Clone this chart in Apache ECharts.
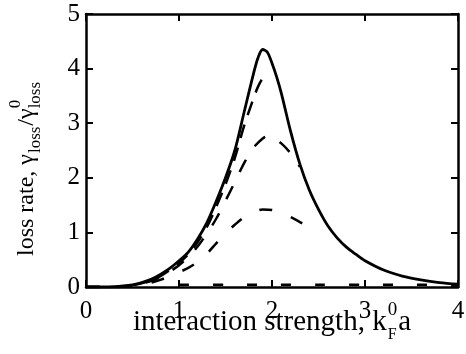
<!DOCTYPE html>
<html>
<head>
<meta charset="utf-8">
<script src="https://cdn.jsdelivr.net/npm/echarts@6/dist/echarts.min.js"></script>
<style>html,body{margin:0;padding:0;background:#fff;}#c{width:466px;height:354px;}</style>
</head>
<body>
<div id="c"></div>
<script>
// ---- data ----
var xTicks = [0, 1, 2, 3, 4];
var yTicks = [0, 1, 2, 3, 4, 5];

var solidX = [0, 0.2, 0.4, 0.5, 0.6, 0.7, 0.8, 0.9, 1.0, 1.1, 1.2, 1.3, 1.4, 1.5, 1.6, 1.7, 1.8, 1.85, 1.9, 1.95, 2.0, 2.05, 2.1, 2.2, 2.3, 2.4, 2.5, 2.6, 2.7, 2.8, 2.9, 3.0, 3.2, 3.4, 3.6, 3.8, 4.0];
var solidY = [0, 0.0, 0.02, 0.04, 0.08, 0.14, 0.23, 0.34, 0.48, 0.64, 0.88, 1.18, 1.57, 2.0, 2.5, 3.2, 3.9, 4.2, 4.35, 4.3, 4.1, 3.85, 3.55, 2.85, 2.25, 1.78, 1.42, 1.12, 0.9, 0.73, 0.6, 0.48, 0.31, 0.2, 0.13, 0.08, 0.05];

var dash1X = [0, 0.3, 0.5, 0.7, 0.8, 0.9, 1.0, 1.1, 1.2, 1.3, 1.4, 1.5, 1.6, 1.7, 1.8, 1.85, 1.9, 1.95];
var dash1Y = [0, 0.0, 0.03, 0.12, 0.2, 0.31, 0.44, 0.6, 0.82, 1.1, 1.47, 1.88, 2.36, 2.95, 3.45, 3.67, 3.82, 3.86];

var dash2X = [0, 0.3, 0.5, 0.7, 0.8, 0.9, 1.0, 1.1, 1.2, 1.3, 1.4, 1.5, 1.6, 1.7, 1.8, 1.9, 1.95, 2.0, 2.1, 2.2, 2.3];
var dash2Y = [0, 0.0, 0.03, 0.11, 0.18, 0.28, 0.4, 0.55, 0.74, 0.98, 1.25, 1.58, 1.92, 2.27, 2.55, 2.72, 2.76, 2.75, 2.63, 2.45, 2.2];

var dash3X = [0, 0.3, 0.5, 0.7, 0.8, 0.9, 1.0, 1.1, 1.2, 1.3, 1.4, 1.5, 1.6, 1.7, 1.8, 1.9, 2.0, 2.1, 2.2, 2.3, 2.4, 2.5];
var dash3Y = [0, 0.0, 0.02, 0.08, 0.13, 0.2, 0.27, 0.35, 0.46, 0.61, 0.8, 0.98, 1.14, 1.28, 1.37, 1.42, 1.41, 1.35, 1.28, 1.19, 1.1, 1.02];

var dash4X = [1.0, 1.5, 2.0, 2.5, 3.0, 3.5, 4.0];
var dash4Y = [0.04, 0.04, 0.04, 0.04, 0.04, 0.04, 0.04];

function pairs(xs, ys) { return xs.map(function (x, i) { return [x, ys[i]]; }); }

var SERIF = '"Liberation Serif", "DejaVu Serif", serif';
function tw(text, size) {
  var c = document.createElement('canvas').getContext('2d');
  c.font = size + 'px ' + SERIF;
  return c.measureText(text).width;
}

// ---- axis title pieces ----
var yMain = 24, ySub = 17;
var yp1 = 'loss rate, \u03b3', yp2 = 'loss', yp3 = '/\u03b3', yp4 = '0', yp5 = 'loss';
var w1 = tw(yp1, yMain), w2 = tw(yp2, ySub), w3 = tw(yp3, yMain), w5 = tw(yp5, ySub);
function T(text, x, y, size) {
  return { type: 'text', x: x, y: y, style: { text: text, font: size + 'px ' + SERIF, fill: '#000', verticalAlign: 'middle', align: 'left' } };
}
var yLabel = {
  type: 'group', x: 27, y: 256, rotation: Math.PI / 2,
  children: [
    T(yp1, 0, 0, yMain),
    T(yp2, w1 + 1, 9, ySub),
    T(yp3, w1 + w2 + 2, 0, yMain),
    T(yp4, w1 + w2 + w3 + 2, -11, ySub),
    T(yp5, w1 + w2 + w3 + 2, 9, ySub)
  ]
};

var xMain = 29;
var xp1 = 'interaction strength, k', xp2 = '0', xp3 = 'F', xp4 = 'a';
var xw1 = tw(xp1, xMain), xw2 = Math.max(tw(xp2, 19), tw(xp3, 16));
var xLabel = {
  type: 'group', x: 133, y: 322,
  children: [
    T(xp1, 0, 0, xMain),
    T(xp2, xw1 + 1, -12, 19),
    T(xp3, xw1 + 1, 13, 16),
    T(xp4, xw1 + xw2 + 2, 0, xMain)
  ]
};

var axisLineStyle = { color: '#000', width: 2.5 };
var tickStyle = { color: '#000', width: 2 };
var lbl = { color: '#000', fontFamily: SERIF, fontSize: 25 };

function dashedSeries(xs, ys, dash) {
  return {
    type: 'line', data: pairs(xs, ys), showSymbol: false, symbol: 'none', smooth: 0.3,
    lineStyle: { color: '#000', width: 2.5, type: dash, cap: 'butt' }, z: 3, animation: false
  };
}

var chart = echarts.init(document.getElementById('c'), null, { renderer: 'canvas' });
chart.setOption({
  animation: false,
  backgroundColor: '#fff',
  grid: { left: 86, right: 8, top: 14, bottom: 67, containLabel: false, outerBoundsMode: 'none' },
  xAxis: [
    { type: 'value', min: 0, max: 4, interval: 1, position: 'bottom',
      axisLine: { show: true, onZero: false, lineStyle: axisLineStyle },
      axisTick: { show: true, inside: true, length: 7, lineStyle: tickStyle },
      axisLabel: Object.assign({ margin: 12, formatter: function (v) { return xTicks.indexOf(v) >= 0 ? String(v) : ''; } }, lbl),
      splitLine: { show: false } },
    { type: 'value', min: 0, max: 4, interval: 1, position: 'top',
      axisLine: { show: true, onZero: false, lineStyle: axisLineStyle },
      axisTick: { show: true, inside: true, length: 7, lineStyle: tickStyle },
      axisLabel: { show: false }, splitLine: { show: false } }
  ],
  yAxis: [
    { type: 'value', min: 0, max: 5, interval: 1, position: 'left',
      axisLine: { show: true, onZero: false, lineStyle: axisLineStyle },
      axisTick: { show: true, inside: true, length: 7, lineStyle: tickStyle },
      axisLabel: Object.assign({ margin: 6, formatter: function (v) { return yTicks.indexOf(v) >= 0 ? String(v) : ''; } }, lbl),
      splitLine: { show: false } },
    { type: 'value', min: 0, max: 5, interval: 1, position: 'right',
      axisLine: { show: true, onZero: false, lineStyle: axisLineStyle },
      axisTick: { show: true, inside: true, length: 7, lineStyle: tickStyle },
      axisLabel: { show: false }, splitLine: { show: false } }
  ],
  series: [
    { type: 'line', data: pairs(solidX, solidY), showSymbol: false, symbol: 'none', smooth: 0.3,
      lineStyle: { color: '#000', width: 2.8 }, z: 4, animation: false },
    dashedSeries(dash1X, dash1Y, [14, 10]),
    dashedSeries(dash2X, dash2Y, [14, 16]),
    dashedSeries(dash3X, dash3Y, [13, 20]),
    dashedSeries(dash4X, dash4Y, [10, 24])
  ],
  graphic: [yLabel, xLabel]
});
</script>
</body>
</html>
